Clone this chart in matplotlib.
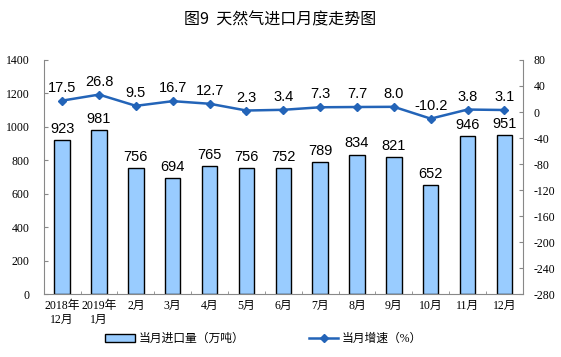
import matplotlib.pyplot as plt
import numpy as np

months = ['2018年\n12月', '2019年\n1月', '2月', '3月', '4月', '5月', '6月',
          '7月', '8月', '9月', '10月', '11月', '12月']
imports = [923, 981, 756, 694, 765, 756, 752, 789, 834, 821, 652, 946, 951]
growth = [17.5, 26.8, 9.5, 16.7, 12.7, 2.3, 3.4, 7.3, 7.7, 8.0, -10.2, 3.8, 3.1]

plt.rcParams['font.family'] = ['Liberation Serif', 'Noto Sans CJK SC']
plt.rcParams['axes.unicode_minus'] = False

fig = plt.figure(figsize=(5.61, 3.57), dpi=100)
ax = fig.add_axes([0.078, 0.176, 0.854, 0.656])
x = np.arange(len(months))

bars = ax.bar(x, imports, width=0.42, color='#99CCFF', edgecolor='black',
              linewidth=1.0, zorder=2)
for xi, v in zip(x, imports):
    ax.text(xi, v + 25, str(v), ha='center', va='bottom', fontsize=10.5,
            family='Liberation Sans')

ax.set_xlim(-0.5, len(months) - 0.5)
ax.set_ylim(0, 1400)
ax.set_yticks(range(0, 1401, 200))
ax.set_xticks(x)
ax.set_xticklabels(months, fontsize=8.5)
ax.set_xticks(np.arange(-0.5, len(months), 1), minor=True)
ax.tick_params(axis='y', labelsize=8.5, length=3, direction='in',
               color='#888888', pad=10)
ax.tick_params(axis='x', which='major', length=0, pad=4)
ax.tick_params(axis='x', which='minor', length=2.5, direction='in',
               color='#888888')
for s in ['top', 'right']:
    ax.spines[s].set_visible(False)
ax.spines['left'].set_color('#888888')
ax.spines['bottom'].set_color('#888888')

ax2 = ax.twinx()
line, = ax2.plot(x, growth, color='#2364B8', marker='D', markersize=4,
                 linewidth=1.8, zorder=3)
for xi, v in zip(x, growth):
    ax2.text(xi, v + 9, f'{v:.1f}', ha='center', va='bottom', fontsize=10.5,
             family='Liberation Sans')
ax2.set_ylim(-280, 80)
ax2.set_yticks(range(-280, 81, 40))
ax2.tick_params(axis='y', labelsize=8.5, length=3, direction='in',
                color='#888888', pad=8)
for s in ['top', 'left', 'bottom']:
    ax2.spines[s].set_visible(False)
ax2.spines['right'].set_color('#888888')

fig.text(0.5, 0.945, '图9  天然气进口月度走势图', ha='center', va='center',
         fontsize=11.5, family=['Noto Sans CJK SC'])

fig.legend([bars, line], ['当月进口量（万吨）', '当月增速（%）'],
           loc='center', bbox_to_anchor=(0.47, 0.05), ncol=2, frameon=False,
           fontsize=8.5, columnspacing=5.5, handlelength=2.5, handletextpad=0.3)

fig.savefig('out.png', dpi=100)
